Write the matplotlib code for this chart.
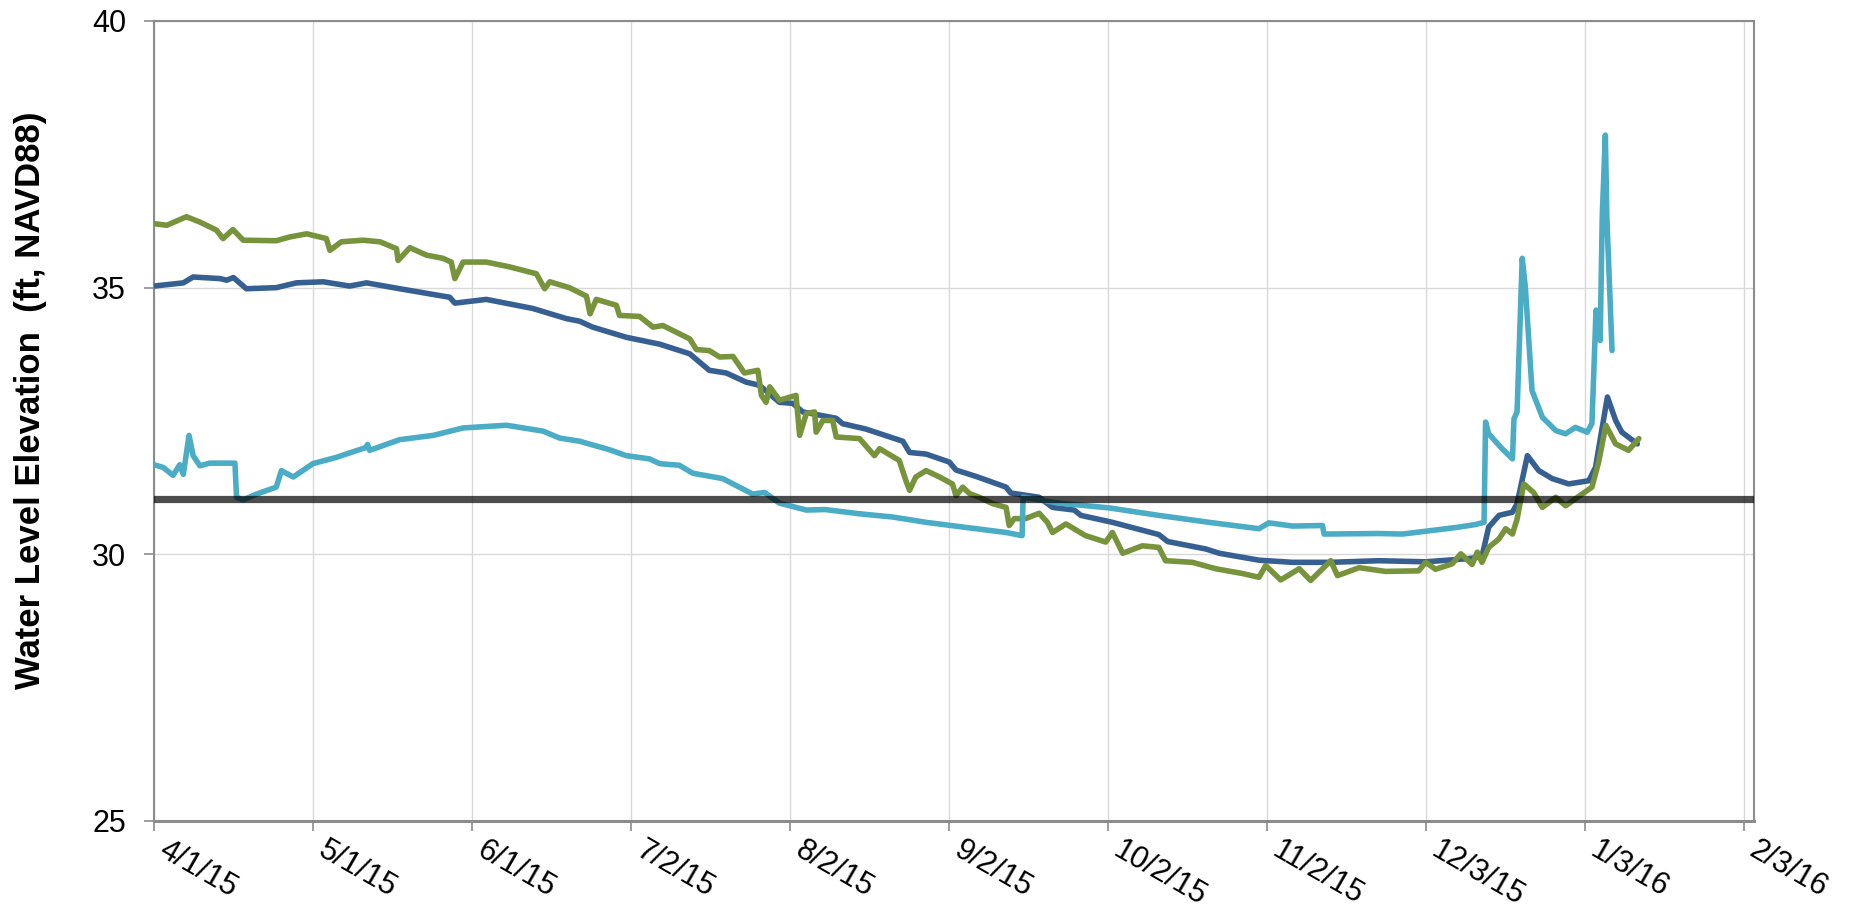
import numpy as np
import pandas as pd
import matplotlib
matplotlib.use("Agg")
import matplotlib.pyplot as plt
import matplotlib.dates as mdates

plt.rcParams["font.family"] = ["Liberation Sans", "DejaVu Sans"]

# ─── Data (days since start, water level in ft NAVD88) ───────────────────────
START = pd.Timestamp("2015-04-01")

well_a_days = [0, 2.5, 6.3, 8.9, 12.1, 13.4, 15.3, 17.3, 23.7, 26.3, 29.6, 33.4, 34.1,
               36.3, 40.5, 43.8, 47.0, 47.3, 49.6, 52.8, 56.0, 57.6, 58.3, 59.9, 64.4,
               68.9, 74.1, 75.7, 76.7, 80.5, 83.8, 84.5, 85.7, 89.6, 90.2, 94.1, 96.7,
               98.6, 103.8, 105.1, 107.6, 109.6, 112.2, 114.4, 117.0, 117.7, 118.6,
               119.3, 121.2, 124.4, 125.1, 126.4, 128.0, 128.3, 129.6, 131.5, 132.2,
               136.7, 139.6, 140.6, 144.4, 145.7, 146.4, 147.6, 149.6, 152.2, 154.7,
               155.4, 156.7, 158.0, 159.9, 162.5, 165.1, 165.7, 166.7, 168.9, 171.5,
               173.1, 174.1, 176.7, 180.5, 184.4, 185.7, 187.7, 191.5, 194.7, 196.0,
               201.2, 205.7, 210.9, 214.1, 215.4, 218.3, 221.9, 224.1, 228.0, 229.3,
               233.5, 238.6, 245.0, 246.4, 248.3, 251.5, 253.2, 255.4, 256.4, 257.3,
               258.6, 260.6, 261.9, 263.2, 264.1, 265.4, 267.3, 269.0, 271.6, 273.5,
               276.7, 278.6, 279.9, 281.3, 283.2, 285.7, 287.7]
well_a_vals = [36.20, 36.17, 36.33, 36.23, 36.08, 35.92, 36.09, 35.89, 35.88, 35.95, 36.01,
               35.92, 35.70, 35.86, 35.89, 35.86, 35.73, 35.51, 35.75, 35.61, 35.55, 35.48,
               35.17, 35.48, 35.48, 35.39, 35.26, 34.98, 35.11, 35.00, 34.84, 34.51, 34.78,
               34.67, 34.48, 34.46, 34.26, 34.29, 34.04, 33.84, 33.82, 33.70, 33.71, 33.40,
               33.45, 32.98, 32.85, 33.14, 32.89, 32.98, 32.23, 32.64, 32.67, 32.29, 32.51,
               32.51, 32.20, 32.17, 31.85, 31.98, 31.76, 31.38, 31.20, 31.45, 31.57, 31.45,
               31.32, 31.10, 31.26, 31.14, 31.07, 30.95, 30.88, 30.54, 30.67, 30.67, 30.77,
               30.60, 30.41, 30.57, 30.35, 30.23, 30.41, 30.02, 30.16, 30.13, 29.88, 29.85,
               29.73, 29.64, 29.57, 29.79, 29.52, 29.73, 29.51, 29.88, 29.60, 29.75, 29.68,
               29.69, 29.85, 29.72, 29.82, 30.01, 29.81, 30.04, 29.85, 30.13, 30.29, 30.48,
               30.38, 30.66, 31.32, 31.16, 30.88, 31.07, 30.91, 31.13, 31.26, 31.73, 32.42,
               32.07, 31.95, 32.17]

well_b_days = [0, 5.7, 7.6, 12.8, 14.1, 15.4, 17.9, 23.7, 27.6, 32.8, 37.9, 41.2, 47.6,
               57.3, 58.3, 64.4, 73.4, 79.9, 82.5, 85.0, 91.5, 98.0, 103.8, 107.6, 110.9,
               114.7, 117.3, 121.2, 123.8, 125.7, 132.2, 133.4, 137.9, 145.1, 146.4, 149.6,
               154.1, 155.4, 159.3, 165.1, 166.0, 171.5, 174.1, 178.3, 179.6, 185.7, 194.7,
               196.4, 203.8, 206.4, 214.1, 220.6, 228.0, 237.3, 246.4, 254.8, 257.3, 258.6,
               260.6, 263.2, 264.1, 266.1, 268.3, 270.9, 274.1, 278.0, 279.3, 280.6, 281.6,
               283.2, 284.4, 287.4]
well_b_vals = [35.03, 35.09, 35.20, 35.17, 35.14, 35.19, 34.98, 35.00, 35.09, 35.11, 35.03,
               35.09, 34.98, 34.82, 34.71, 34.78, 34.61, 34.42, 34.37, 34.26, 34.07, 33.94,
               33.76, 33.45, 33.40, 33.23, 33.17, 32.85, 32.83, 32.67, 32.55, 32.45, 32.35,
               32.12, 31.91, 31.88, 31.73, 31.58, 31.46, 31.26, 31.15, 31.07, 30.88, 30.83,
               30.73, 30.60, 30.37, 30.24, 30.10, 30.02, 29.89, 29.85, 29.85, 29.88, 29.86,
               29.92, 29.96, 30.51, 30.73, 30.79, 30.95, 31.85, 31.57, 31.42, 31.32, 31.38,
               31.63, 32.38, 32.95, 32.51, 32.29, 32.07]

well_c_days = [0, 1.8, 3.7, 5.0, 5.7, 6.8, 7.6, 8.9, 10.8, 15.7, 16.0, 17.3, 19.9, 23.7,
               24.7, 27.0, 30.8, 35.4, 41.0, 41.4, 41.8, 47.6, 54.1, 59.9, 68.3, 75.4, 78.6,
               82.5, 88.3, 91.5, 96.0, 98.0, 101.8, 104.4, 110.2, 113.4, 116.0, 118.3,
               121.2, 126.4, 130.0, 136.7, 143.1, 149.6, 159.3, 165.1, 168.2, 168.4, 175.4,
               185.1, 194.7, 204.4, 214.1, 216.0, 220.6, 226.4, 226.7, 237.3, 241.9, 247.0,
               252.8, 256.1, 257.7, 258.0, 258.6, 261.2, 263.2, 263.5, 264.1, 265.1, 265.7,
               267.0, 269.0, 271.6, 273.5, 275.4, 277.7, 278.6, 279.4, 280.2, 280.6, 281.2,
               281.5, 282.5]
well_c_vals = [31.68, 31.63, 31.48, 31.68, 31.50, 32.23, 31.85, 31.66, 31.71, 31.71, 31.07,
               31.02, 31.13, 31.26, 31.57, 31.45, 31.70, 31.82, 32.00, 32.06, 31.95, 32.15,
               32.23, 32.37, 32.42, 32.31, 32.18, 32.12, 31.96, 31.85, 31.79, 31.70, 31.67,
               31.52, 31.42, 31.26, 31.13, 31.16, 30.96, 30.83, 30.84, 30.76, 30.70, 30.60,
               30.48, 30.41, 30.35, 31.07, 30.96, 30.87, 30.73, 30.60, 30.48, 30.59, 30.53,
               30.54, 30.38, 30.39, 30.38, 30.44, 30.51, 30.56, 30.60, 32.48, 32.26, 31.98,
               31.79, 32.54, 32.67, 35.55, 35.01, 33.07, 32.57, 32.32, 32.26, 32.38, 32.29,
               32.45, 34.58, 34.01, 36.33, 37.86, 36.30, 33.82]

REF_LEVEL = 31.03          # horizontal reference elevation
Y_TICKS = [25, 30, 35, 40]
TICK_STEP_DAYS = 30.8      # major unit of the date axis
N_TICKS = 11
X_END_DAYS = 310


def to_dates(days):
    return START + pd.to_timedelta(np.asarray(days), unit="D")


# ─── Figure ──────────────────────────────────────────────────────────────────
fig = plt.figure(figsize=(18.5, 9.17), dpi=100)
ax = fig.add_axes([0.0832, 0.1047, 0.8649, 0.8724])

LW = 4.0
ax.plot(to_dates(well_b_days), well_b_vals, color="#376092", lw=LW,
        solid_joinstyle="round", solid_capstyle="round", zorder=3)
ax.plot(to_dates(well_a_days), well_a_vals, color="#77933C", lw=LW,
        solid_joinstyle="round", solid_capstyle="round", zorder=4)
ax.plot(to_dates(well_c_days), well_c_vals, color="#4BACC6", lw=LW,
        solid_joinstyle="round", solid_capstyle="round", zorder=5)
ax.axhline(REF_LEVEL, color="black", lw=5.2, alpha=0.7, zorder=6)

# axes, ticks, grid
ax.set_xlim(START, START + pd.Timedelta(days=X_END_DAYS))
ax.set_ylim(25, 40)
ax.set_yticks(Y_TICKS)
xticks = to_dates([k * TICK_STEP_DAYS for k in range(N_TICKS)])
ax.set_xticks(xticks)
ax.xaxis.set_major_formatter(mdates.DateFormatter("%-m/%-d/%y"))

ax.grid(True, color="#d9d9d9", lw=1.0, zorder=0)
ax.set_axisbelow(True)
for side in ["left", "right", "top", "bottom"]:
    ax.spines[side].set_color("#8c8c8c")
    ax.spines[side].set_linewidth(1.5)
ax.spines["bottom"].set_linewidth(2.2)

ax.tick_params(axis="y", direction="out", length=7, width=1.2, color="#8c8c8c",
               labelsize=22, pad=13)
ax.tick_params(axis="x", direction="out", length=7, width=1.2, color="#8c8c8c",
               labelsize=22, pad=3)
for lbl in ax.get_xticklabels():
    lbl.set_rotation(-30)
    lbl.set_ha("left")
    lbl.set_va("top")

ax.set_ylabel("Water Level Elevation  (ft, NAVD88)", fontsize=25, fontweight="bold")
ax.yaxis.set_label_coords(-0.067, 0.526)

fig.savefig("out.png", dpi=100)
